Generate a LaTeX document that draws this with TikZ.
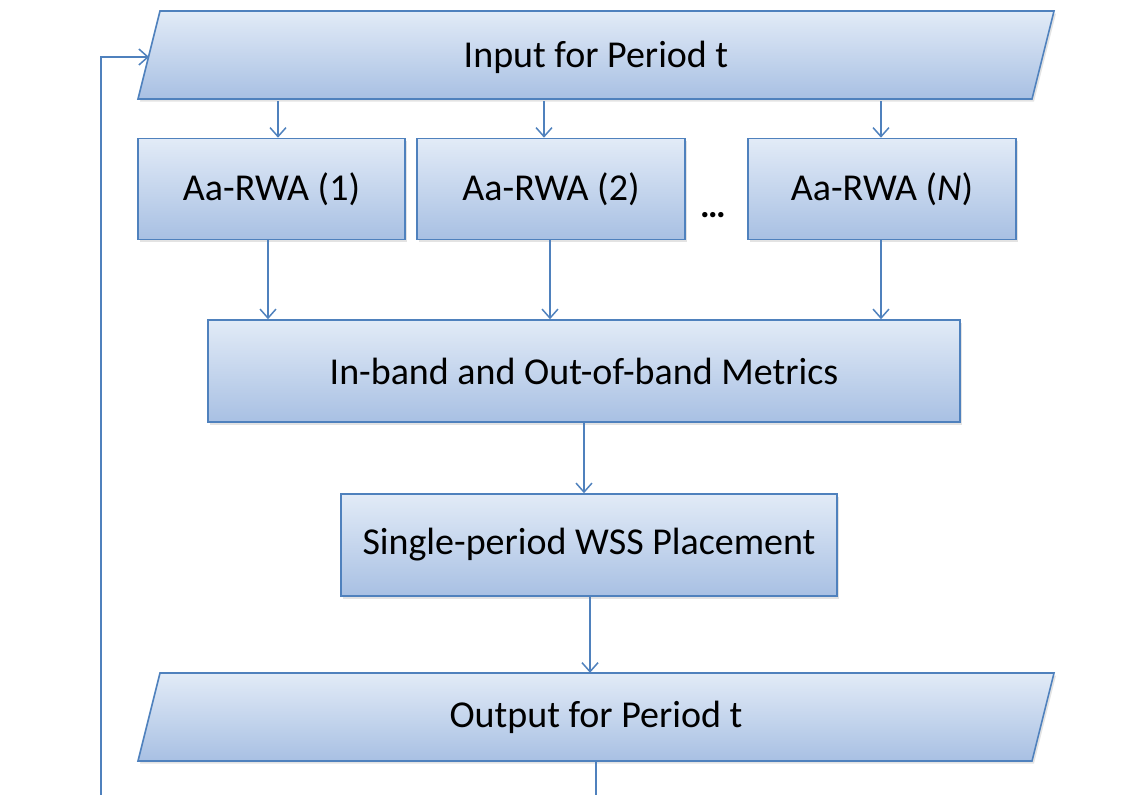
\documentclass[tikz,border=0pt]{standalone}
\usepackage{fontspec}
\setmainfont{Carlito}
\usetikzlibrary{arrows.meta,shadows}
\definecolor{bordc}{RGB}{79,129,189}
\definecolor{ftop}{RGB}{226,235,247}
\definecolor{fbot}{RGB}{168,192,227}
\begin{document}
\begin{tikzpicture}[x=1pt,y=-1pt,
  shade/.style={draw=bordc, line width=1.6pt, top color=ftop, bottom color=fbot,
    drop shadow={shadow xshift=2pt,shadow yshift=-2.5pt,opacity=0.22}},
  box/.style={shade, inner sep=0pt, font=\fontsize{38}{44}\selectfont},
  ghost/.style={inner sep=0pt, font=\fontsize{38}{44}\selectfont},
  conn/.style={draw=bordc, line width=1.5pt, -{Straight Barb[length=9pt,width=16pt]}},
  line/.style={draw=bordc, line width=1.5pt}]
\useasboundingbox (0,0) rectangle (1143,795);

% input parallelogram
\path[shade] (160,11) -- (1054,11) -- (1032,99) -- (138,99) -- cycle;
\node[ghost, minimum width=872pt, minimum height=88pt] (inp) at (596,57) {Input for Period t};
\coordinate (inleft) at (149,57);

% Aa-RWA boxes
\node[box, minimum width=267pt, minimum height=101pt] (b1) at (271.5,189) {Aa-RWA (1)};
\node[box, minimum width=268pt, minimum height=101pt] (b2) at (551,189) {Aa-RWA (2)};
\node[box, minimum width=268pt, minimum height=101pt] (bn) at (882,189) {Aa-RWA (\textit{N})};
\node[ghost] (dots) at (713,215) {\fontsize{36}{40}\selectfont\textbf{\dots}};

% metrics
\node[box, minimum width=752pt, minimum height=102pt] (met) at (584,371) {In-band and Out-of-band Metrics};
% placement
\node[box, minimum width=496pt, minimum height=102pt] (pla) at (589,545) {Single-period WSS Placement};

% output parallelogram
\path[shade] (160,673) -- (1054,673) -- (1032,761) -- (138,761) -- cycle;
\node[ghost, minimum width=872pt, minimum height=88pt] (out) at (596,717) {Output for Period t};

% connectors
\path ([xshift=6.5pt]b1.north) coordinate (t1)
      ([xshift=-7pt]b2.north) coordinate (t2)
      ([xshift=-1pt]bn.north) coordinate (tn)
      ([xshift=-3.5pt]b1.south) coordinate (s1)
      ([xshift=-1pt]b2.south) coordinate (s2)
      ([xshift=-1pt]bn.south) coordinate (sn)
      ([xshift=1pt]pla.south) coordinate (sp)
      ([xshift=0pt]out.south) coordinate (so)
      (101,795) coordinate (fb0)
      (596,795) coordinate (ob0);
\draw[conn] (inp.south -| t1) -- (t1);
\draw[conn] (inp.south -| t2) -- (t2);
\draw[conn] (inp.south -| tn) -- (tn);
\draw[conn] (s1) -- (met.north -| s1);
\draw[conn] (s2) -- (met.north -| s2);
\draw[conn] (sn) -- (met.north -| sn);
\draw[conn] (met.south) -- (pla.north -| met.south);
\draw[conn] (sp) -- (out.north -| sp);
\draw[line] (so) -- (ob0);
\draw[conn] (fb0) -- (fb0 |- inleft) -- (inleft);
\end{tikzpicture}
\end{document}
